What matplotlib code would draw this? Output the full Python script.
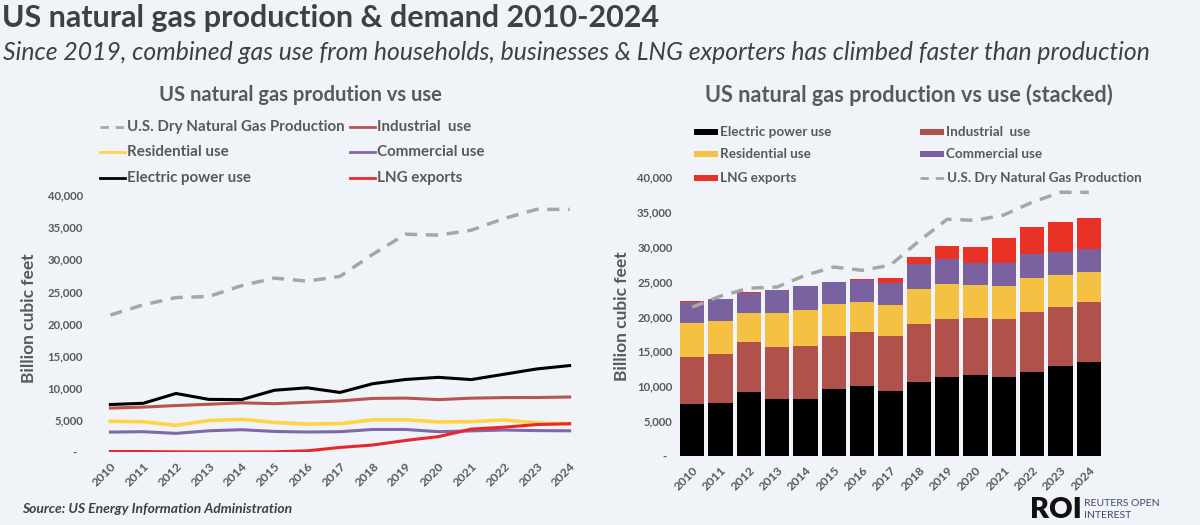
import matplotlib
matplotlib.use("Agg")
import matplotlib.pyplot as plt
from matplotlib.lines import Line2D
from matplotlib.patches import Rectangle
import numpy as np

years = [2010, 2011, 2012, 2013, 2014, 2015, 2016, 2017, 2018, 2019, 2020, 2021, 2022, 2023, 2024]
production = [21316, 22902, 24033, 24206, 25890, 27065, 26592, 27340, 30774, 33899, 33752, 34516, 36344, 37770, 37760]
electric = [7390, 7580, 9110, 8190, 8150, 9610, 9990, 9270, 10630, 11290, 11620, 11270, 12100, 12930, 13450]
industrial = [6830, 6990, 7230, 7430, 7650, 7520, 7730, 7950, 8340, 8390, 8150, 8380, 8470, 8480, 8560]
residential = [4780, 4710, 4150, 4900, 5090, 4610, 4350, 4410, 5000, 5020, 4680, 4720, 4990, 4510, 4400]
commercial = [3100, 3160, 2900, 3300, 3470, 3200, 3110, 3160, 3510, 3510, 3160, 3280, 3420, 3330, 3300]
lng = [65, 70, 28, 3, 16, 28, 186, 707, 1087, 1798, 2390, 3560, 3862, 4270, 4400]
yticks = [0, 5000, 10000, 15000, 20000, 25000, 30000, 35000, 40000]
ytick_labels = ["-  ", "5,000", "10,000", "15,000", "20,000", "25,000", "30,000", "35,000", "40,000"]

BG = "#F0F3F7"
DARK = "#404040"
MID = "#595959"
FONT = "Lato"
plt.rcParams["font.family"] = [FONT, "DejaVu Sans"]

C_PROD = "#A6A6A6"
C_IND_L = "#B85450"
C_RES_L = "#FFD447"
C_COM_L = "#7E68A8"
C_ELE = "#000000"
C_LNG_L = "#E8262B"
C_IND_B = "#B0514C"
C_RES_B = "#F5C142"
C_COM_B = "#7A62A0"
C_LNG_B = "#E83226"

W, H = 1200, 525
fig = plt.figure(figsize=(12, 5.25), dpi=100, facecolor=BG)

def fx(x):
    return x / W

def fy(y):
    return 1 - y / H

# Titles
fig.text(fx(2), fy(18), "US natural gas production & demand 2010-2024", fontsize=22,
         fontweight="bold", color=DARK, va="center", ha="left")
fig.text(fx(3), fy(52), "Since 2019, combined gas use from households, businesses & LNG exporters has climbed faster than production",
         fontsize=17.8, style="italic", color=DARK, va="center", ha="left")

x = np.arange(len(years))

# ---------- Left chart ----------
axL = fig.add_axes([fx(94), fy(452), fx(586) - fx(94), fy(195) - fy(452)])
axL.set_facecolor(BG)
lw = 2.2
axL.plot(x, production, color=C_PROD, lw=lw + 0.3, dashes=(3.5, 2.5))
axL.plot(x, industrial, color=C_IND_L, lw=lw)
axL.plot(x, residential, color=C_RES_L, lw=lw + 0.4)
axL.plot(x, commercial, color=C_COM_L, lw=lw)
axL.plot(x, electric, color=C_ELE, lw=lw)
axL.plot(x, lng, color=C_LNG_L, lw=lw)
axL.axhline(0, color="#D9D9D9", lw=1, zorder=0)
axL.set_xlim(-0.5, len(years) - 0.5)
axL.set_ylim(0, 40000)

# ---------- Right chart ----------
axR = fig.add_axes([fx(678), fy(456), fx(1103) - fx(678), fy(176.7) - fy(456)])
axR.set_facecolor(BG)
bw = 0.85
bottom = np.zeros(len(years))
for vals, col in [(electric, C_ELE), (industrial, C_IND_B), (residential, C_RES_B),
                  (commercial, C_COM_B), (lng, C_LNG_B)]:
    axR.bar(x, vals, bw, bottom=bottom, color=col, edgecolor="none")
    bottom = bottom + np.array(vals)
axR.plot(x, production, color=C_PROD, lw=lw + 0.3, dashes=(3.5, 2.5))
axR.set_xlim(-0.5, len(years) - 0.5)
axR.set_ylim(0, 40000)

for ax, ypad in ((axL, 8), (axR, 4)):
    for s in ax.spines.values():
        s.set_visible(False)
    ax.set_yticks(yticks)
    ax.set_yticklabels(ytick_labels)
    ax.set_xticks(x)
    ax.set_xticklabels([str(y) for y in years], rotation=45, ha="right", rotation_mode="anchor")
    ax.tick_params(length=0, colors=MID)
    ax.tick_params(axis="y", labelsize=8.2, pad=ypad)
    ax.tick_params(axis="x", labelsize=8.8, pad=6)
    for lab in ax.get_xticklabels() + ax.get_yticklabels():
        lab.set_fontweight("bold")

fig.text(fx(29), fy(318), "Billion cubic feet", rotation=90, fontsize=12.5, fontweight="bold",
         color=MID, ha="center", va="center")
fig.text(fx(622), fy(316), "Billion cubic feet", rotation=90, fontsize=12.5, fontweight="bold",
         color=MID, ha="center", va="center")

# Sub-titles
fig.text(fx(300), fy(95), "US natural gas prodution vs use", fontsize=14.5, fontweight="bold",
         color=MID, ha="center", va="center")
fig.text(fx(909), fy(95), "US natural gas production vs use (stacked)", fontsize=15.6, fontweight="bold",
         color=MID, ha="center", va="center")

def leg_line(x0, y0, label, color, fs, dashed=False, lwid=2.0):
    if dashed:
        ln = Line2D([fx(x0), fx(x0 + 25)], [fy(y0), fy(y0)], transform=fig.transFigure,
                    color=color, lw=lwid, dashes=(3, 2.5))
    else:
        ln = Line2D([fx(x0), fx(x0 + 25)], [fy(y0), fy(y0)], transform=fig.transFigure,
                    color=color, lw=lwid)
    fig.add_artist(ln)
    fig.text(fx(x0 + 27), fy(y0), label, fontsize=fs, fontweight="bold", color=MID,
             ha="left", va="center")

def leg_rect(x0, y0, label, color, fs):
    r = Rectangle((fx(x0), fy(y0 + 3)), fx(24), fy(0) - fy(6), transform=fig.transFigure,
                  facecolor=color, edgecolor="none")
    fig.add_artist(r)
    fig.text(fx(x0 + 26), fy(y0), label, fontsize=fs, fontweight="bold", color=MID,
             ha="left", va="center")

LFS = 10.9
RFS = 9.7
# Left legend
leg_line(100, 127, "U.S. Dry Natural Gas Production", C_PROD, LFS, dashed=True)
leg_line(350, 127, "Industrial  use", C_IND_L, LFS)
leg_line(100, 152, "Residential use", C_RES_L, LFS)
leg_line(350, 152, "Commercial use", C_COM_L, LFS)
leg_line(100, 178, "Electric power use", C_ELE, LFS)
leg_line(350, 178, "LNG exports", C_LNG_L, LFS)

# Right legend
leg_rect(694, 132, "Electric power use", C_ELE, RFS)
leg_rect(920, 132, "Industrial  use", C_IND_B, RFS)
leg_rect(694, 154, "Residential use", C_RES_B, RFS)
leg_rect(920, 154, "Commercial use", C_COM_B, RFS)
leg_rect(694, 178, "LNG exports", C_LNG_B, RFS)
leg_line(920, 178, "U.S. Dry Natural Gas Production", C_PROD, RFS, dashed=True)

# Footer
fig.text(fx(22), fy(509), "Source: US Energy Information Administration", fontsize=10,
         fontweight="bold", style="italic", color=DARK, ha="left", va="center")
fig.text(fx(1030), fy(510), "ROI", fontsize=21, fontweight="heavy", color="#111111",
         ha="left", va="center")
fig.text(fx(1084), fy(503), "REUTERS OPEN", fontsize=7.5, color="#3A4A6E", ha="left", va="center")
fig.text(fx(1084), fy(516), "INTEREST", fontsize=7.5, color="#3A4A6E", ha="left", va="center")

fig.savefig("out.png", dpi=100, facecolor=BG)
